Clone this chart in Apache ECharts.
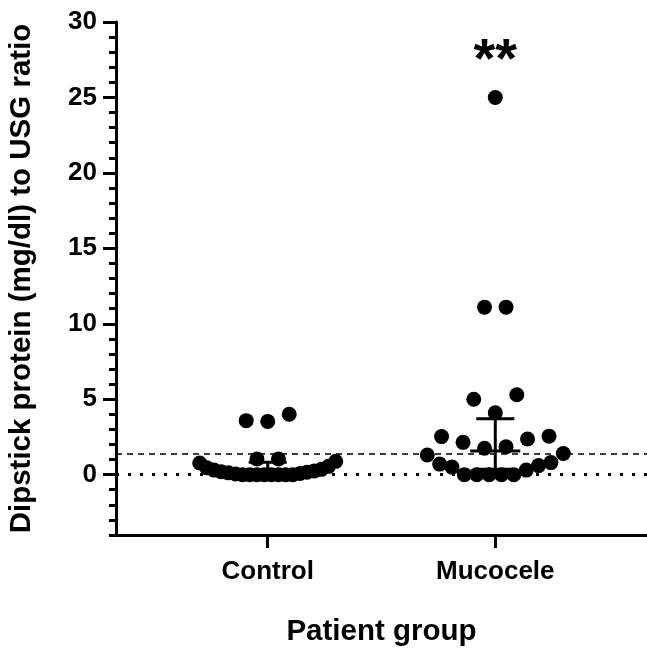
<!DOCTYPE html>
<html>
<head>
<meta charset="utf-8">
<script src="https://cdn.jsdelivr.net/npm/echarts@6/dist/echarts.min.js"></script>
<style>
    html, body { margin: 0; padding: 0; background: #fff; }
    #chart { width: 647px; height: 648px; }
</style>
</head>
<body>
<div id="chart"></div>
<script>
// Data
const groups = ['Control', 'Mucocele'];
const controlValues = [0, 0, 0, 0, 0, 0, 0, 0, 0.05, 0.08, 0.12, 0.16, 0.2, 0.25, 0.3, 0.35,
    0.45, 0.55, 0.77, 0.88, 1.04, 1.04, 3.53, 3.58, 4.0];
const mucoceleValues = [0, 0, 0, 0, 0, 0.3, 0.5, 0.6, 0.7, 0.8, 1.3, 1.4,
    1.75, 1.85, 2.14, 2.36, 2.52, 2.55, 4.1, 5.0, 5.3, 11.1, 11.1, 25];
const yTicks = [0, 5, 10, 15, 20, 25, 30];
const cutoffValue = 1.4;
const significance = '**';

const FONT = '"Liberation Sans", Arial, Helvetica, sans-serif';
const X_MIN = 1 / 3, X_MAX = 8 / 3;
const GRID = { left: 116, right: 0, top: 22, bottom: 113, outerBoundsMode: 'none' };
const unitPx = (647 - GRID.left - GRID.right) / (X_MAX - X_MIN);

// GraphPad-style scatter: rows of similar values, lowest in the middle
function swarm(values, center) {
    const sorted = values.slice().sort((a, b) => a - b);
    const rows = [];
    let row = [];
    sorted.forEach(v => {
        if (row.length && (v - row[0] >= 1.5 || row.length >= 20)) {
            rows.push(row);
            row = [];
        }
        row.push(v);
    });
    if (row.length) rows.push(row);

    const pts = [];
    rows.forEach(r => {
        const n = r.length;
        const step = n > 1 ? Math.min(21.5, 136 / (n - 1)) : 0;
        r.forEach((v, i) => {
            let slot;
            if (n % 2) {
                const k = Math.ceil(i / 2);
                slot = i === 0 ? 0 : (i % 2 ? -k : k);
            } else {
                const k = Math.floor(i / 2) + 0.5;
                slot = i % 2 ? k : -k;
            }
            pts.push([center + slot * step / unitPx, v]);
        });
    });
    return pts;
}

function quantile(values, p) {
    const s = values.slice().sort((a, b) => a - b);
    const r = Math.min(Math.max(p * (s.length + 1) - 1, 0), s.length - 1);
    const lo = Math.floor(r);
    const hi = Math.min(s.length - 1, lo + 1);
    return s[lo] + (s[hi] - s[lo]) * (r - lo);
}

const allGroups = [controlValues, mucoceleValues];
const summary = allGroups.map((vals, i) => [i + 1, quantile(vals, 0.5), quantile(vals, 0.25), quantile(vals, 0.75)]);

const chart = echarts.init(document.getElementById('chart'));

const option = {
    animation: false,
    grid: GRID,
    xAxis: {
        type: 'value',
        min: X_MIN,
        max: X_MAX,
        name: 'Patient group',
        nameLocation: 'middle',
        nameGap: 82,
        nameTextStyle: { fontFamily: FONT, fontWeight: 'bold', fontSize: 29.5, color: '#000' },
        axisLine: { onZero: false, lineStyle: { color: '#000', width: 3 } },
        axisTick: { customValues: [1, 2], length: 13, lineStyle: { color: '#000', width: 3 } },
        axisLabel: {
            customValues: [1, 2],
            formatter: v => groups[Math.round(v) - 1],
            margin: 24,
            fontFamily: FONT, fontWeight: 'bold', fontSize: 26, color: '#000'
        },
        splitLine: { show: false }
    },
    yAxis: [{
        type: 'value',
        min: -4,
        max: 30,
        name: 'Dipstick protein (mg/dl) to USG ratio',
        nameLocation: 'middle',
        nameGap: 79,
        nameTextStyle: { fontFamily: FONT, fontWeight: 'bold', fontSize: 29.5, color: '#000' },
        axisLine: { show: true, onZero: false, lineStyle: { color: '#000', width: 3 } },
        axisTick: { show: true, customValues: yTicks, length: 13, lineStyle: { color: '#000', width: 3 } },
        axisLabel: {
            customValues: yTicks,
            margin: 19,
            fontFamily: FONT, fontWeight: 'bold', fontSize: 26, color: '#000'
        },
        splitLine: { show: false }
    }, {
        type: 'value',
        min: -4,
        max: 30,
        interval: 1,
        position: 'left',
        axisLine: { show: false, onZero: false },
        axisTick: { show: true, length: 7, lineStyle: { color: '#000', width: 3 } },
        axisLabel: { show: false },
        splitLine: { show: false }
    }],
    series: [
        {
            type: 'scatter',
            name: 'Control',
            data: swarm(controlValues, 1),
            symbol: 'circle',
            symbolSize: 15,
            itemStyle: { color: '#000', opacity: 1 },
            silent: true,
            z: 3,
            markLine: {
                silent: true,
                symbol: 'none',
                label: { show: false },
                data: [
                    { yAxis: cutoffValue, lineStyle: { color: '#000', width: 1.5, type: [6, 5], opacity: 1 } },
                    { yAxis: 0, lineStyle: { color: '#000', width: 3, type: [3, 9], opacity: 1 } }
                ]
            }
        },
        {
            type: 'scatter',
            name: 'Mucocele',
            data: swarm(mucoceleValues, 2),
            symbol: 'circle',
            symbolSize: 15,
            itemStyle: { color: '#000', opacity: 1 },
            silent: true,
            z: 3,
            markPoint: {
                silent: true,
                symbol: 'circle',
                symbolSize: 1,
                itemStyle: { color: 'rgba(0,0,0,0)' },
                label: {
                    show: true,
                    position: 'inside',
                    formatter: significance,
                    fontFamily: FONT, fontWeight: 'bold', fontSize: 56, color: '#000'
                },
                data: [{ coord: [2, 27.4] }]
            }
        },
        {
            type: 'custom',
            name: 'Median (IQR)',
            data: summary,
            z: 4,
            silent: true,
            renderItem: function (params, api) {
                const x = api.value(0);
                const med = api.coord([x, api.value(1)]);
                const lo = api.coord([x, api.value(2)]);
                const hi = api.coord([x, api.value(3)]);
                const style = { stroke: '#000', lineWidth: 3 };
                return {
                    type: 'group',
                    children: [
                        { type: 'line', shape: { x1: lo[0], y1: lo[1], x2: hi[0], y2: hi[1] }, style: style },
                        { type: 'line', shape: { x1: med[0] - 25, y1: med[1], x2: med[0] + 25, y2: med[1] }, style: style },
                        { type: 'line', shape: { x1: hi[0] - 19, y1: hi[1], x2: hi[0] + 19, y2: hi[1] }, style: style },
                        { type: 'line', shape: { x1: lo[0] - 19, y1: lo[1], x2: lo[0] + 19, y2: lo[1] }, style: style }
                    ]
                };
            }
        }
    ]
};

chart.setOption(option);
</script>
</body>
</html>
